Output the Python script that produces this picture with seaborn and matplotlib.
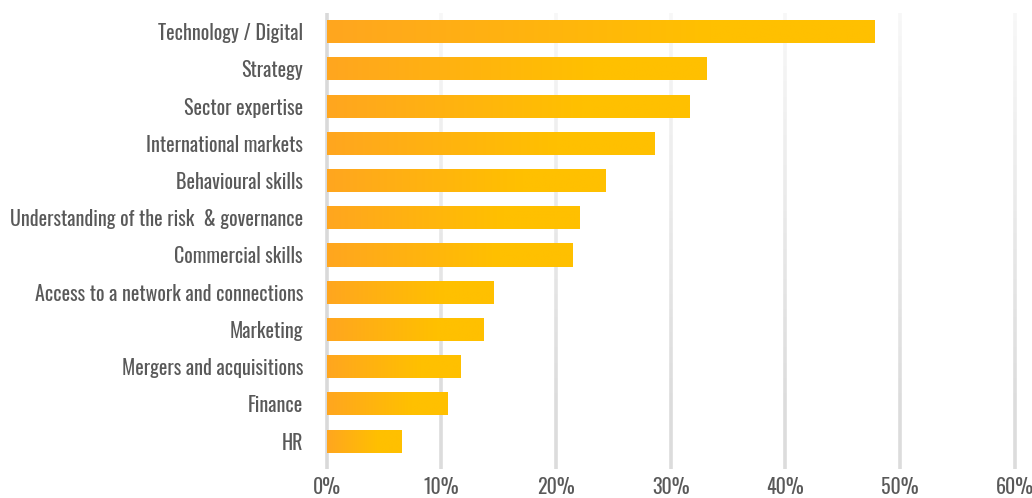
import numpy as np
import pandas as pd
import matplotlib
matplotlib.use("Agg")
import matplotlib.pyplot as plt
from matplotlib import font_manager as fm
from matplotlib.collections import LineCollection
from matplotlib.colors import LinearSegmentedColormap, to_rgb
import seaborn as sns

# Skills needed on the board (share of respondents)
skills = [
    "Technology / Digital",
    "Strategy",
    "Sector expertise",
    "International markets",
    "Behavioural skills",
    "Understanding of the risk  & governance",
    "Commercial skills",
    "Access to a network and connections",
    "Marketing",
    "Mergers and acquisitions",
    "Finance",
    "HR",
]
shares = [0.477, 0.331, 0.316, 0.285, 0.243, 0.220, 0.214, 0.145, 0.136, 0.116, 0.105, 0.065]
x_ticks = [0.0, 0.1, 0.2, 0.3, 0.4, 0.5, 0.6]
x_tick_labels = ["0%", "10%", "20%", "30%", "40%", "50%", "60%"]

df = pd.DataFrame({"skill": skills, "share": shares})

sns.set_theme(style="white")

# Prefer a condensed sans face for the labels
installed = {f.name for f in fm.fontManager.ttflist}
preferred = ["Oswald", "Pathway Gothic One", "Fjalla One", "Roboto Condensed",
             "Archivo Narrow", "Liberation Sans Narrow"]
family = [f for f in preferred if f in installed][:1] + ["DejaVu Sans"]
plt.rcParams["font.family"] = family

TEXT = "#595959"
ORANGE = "#FFA61F"
GOLD = "#FFC000"

fig = plt.figure(figsize=(10.32, 4.98), dpi=100)
ax = fig.add_axes([0.3164, 0.0582, 0.9835 - 0.3164, 0.9739 - 0.0582])

sns.barplot(data=df, x="share", y="skill", orient="h", color=GOLD,
            width=0.62, ax=ax, zorder=3)

y_lo, y_hi = len(skills) - 0.25, -0.5

# Horizontal colour ramp inside each bar: orange at the base, gold from ~70% on
ramp = LinearSegmentedColormap.from_list(
    "ramp", [(0.0, to_rgb(ORANGE)), (0.7, to_rgb(GOLD)), (1.0, to_rgb(GOLD))])
grad = np.linspace(0, 1, 256).reshape(1, -1)
for patch in ax.patches:
    x0, y0 = patch.get_x(), patch.get_y()
    w, h = patch.get_width(), patch.get_height()
    im = ax.imshow(grad, cmap=ramp, aspect="auto", interpolation="bilinear",
                   extent=[x0, x0 + w, y0 + h, y0], zorder=3)
    im.set_clip_path(patch)
    patch.set_facecolor("none")
    patch.set_edgecolor("none")
ax.set_xlim(0, 0.6)
ax.set_ylim(y_lo, y_hi)

# Vertical gridlines fading out toward the top
n_seg = 60
ys = np.linspace(y_lo, y_hi, n_seg + 1)
light = np.array(to_rgb("#F7F7F7"))
dark = np.array(to_rgb("#DCDCDC"))
for xv in x_ticks:
    segs, cols = [], []
    for i in range(n_seg):
        segs.append([(xv, ys[i]), (xv, ys[i + 1])])
        t = i / (n_seg - 1)
        f = min(1.0, max(0.0, (1 - t) / 0.85))
        c = dark * f + light * (1 - f) if xv > 0 else np.array(to_rgb("#D9D9D9"))
        cols.append(c)
    lc = LineCollection(segs, colors=cols, linewidths=2.6, zorder=1,
                        capstyle="butt", clip_on=False)
    ax.add_collection(lc)

ax.set_xticks(x_ticks)
ax.set_xticklabels(x_tick_labels)
ax.set_xlabel("")
ax.set_ylabel("")
ax.grid(False)
for s in ax.spines.values():
    s.set_visible(False)

ax.tick_params(axis="y", length=0, pad=17, labelsize=14.4, labelcolor=TEXT)
ax.tick_params(axis="x", length=0, pad=6, labelsize=14.4, labelcolor=TEXT)

fig.savefig("out.png", dpi=100, facecolor="white")
